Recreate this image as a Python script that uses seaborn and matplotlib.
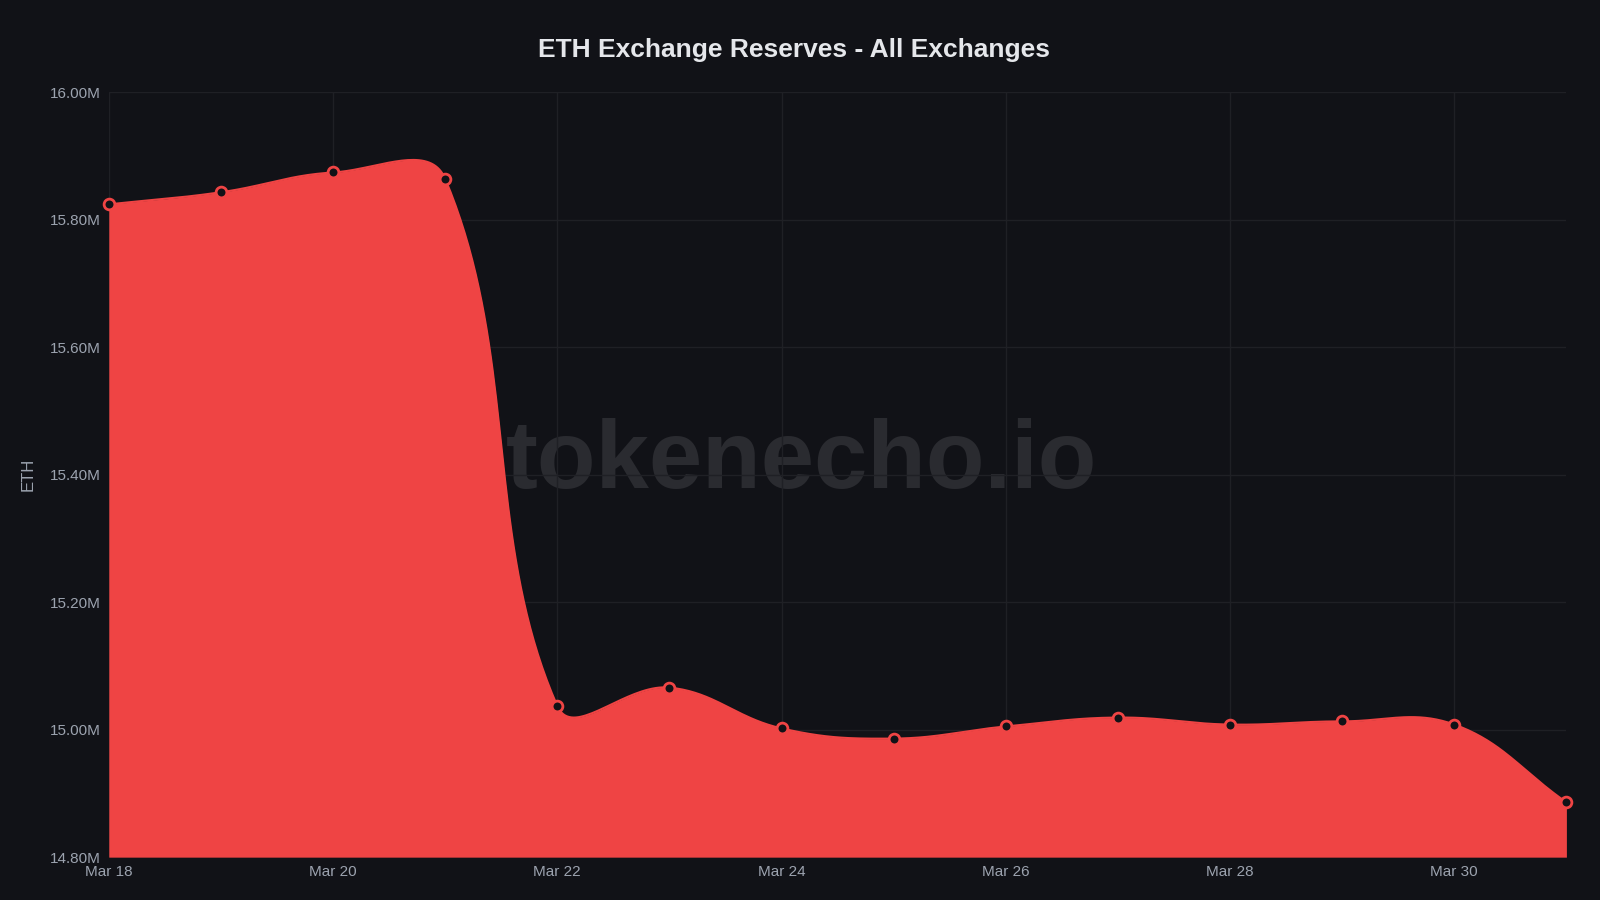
import numpy as np
import pandas as pd
import seaborn as sns
import matplotlib.pyplot as plt
import matplotlib.ticker as mticker

days = list(range(18, 32))
reserves = [15.824, 15.843, 15.874, 15.864, 15.037, 15.066, 15.002,
            14.986, 15.005, 15.019, 15.008, 15.013, 15.008, 14.886]
tick_days = [18, 20, 22, 24, 26, 28, 30]
tick_labels = ["Mar 18", "Mar 20", "Mar 22", "Mar 24", "Mar 26", "Mar 28", "Mar 30"]

df = pd.DataFrame({"day": days, "eth": reserves})

BG = "#111217"
RED = "#ef4444"

sns.set_theme(style="dark")
plt.rcParams["font.family"] = ["Liberation Sans", "DejaVu Sans"]

# chart.js style bezier smoothing (tension 0.4), computed in pixel-like space
def smooth(x, y, sx=110.0, sy=625.0, t=0.4, n=40):
    px, py = np.array(x) * sx, np.array(y) * sy
    m = len(px)
    c1, c2 = [], []
    for i in range(m):
        a = max(i - 1, 0)
        b = min(i + 1, m - 1)
        d01 = np.hypot(px[i] - px[a], py[i] - py[a])
        d12 = np.hypot(px[b] - px[i], py[b] - py[i])
        tot = d01 + d12 if d01 + d12 > 0 else 1
        fa, fb = t * d01 / tot, t * d12 / tot
        dx, dy = px[b] - px[a], py[b] - py[a]
        c1.append((px[i] - fa * dx, py[i] - fa * dy))
        c2.append((px[i] + fb * dx, py[i] + fb * dy))
    xs, ys = [], []
    s = np.linspace(0, 1, n)
    for i in range(m - 1):
        p0 = np.array([px[i], py[i]])
        p3 = np.array([px[i + 1], py[i + 1]])
        p1 = np.array(c2[i])
        p2 = np.array(c1[i + 1])
        pts = ((1 - s) ** 3)[:, None] * p0 + (3 * (1 - s) ** 2 * s)[:, None] * p1 \
            + (3 * (1 - s) * s ** 2)[:, None] * p2 + (s ** 3)[:, None] * p3
        xs.extend(pts[:, 0] / sx)
        ys.extend(pts[:, 1] / sy)
    return np.array(xs), np.array(ys)

fig = plt.figure(figsize=(16, 9), dpi=100, facecolor=BG)
ax = fig.add_axes([0.068, 0.0476, 0.911, 0.850], facecolor=BG)

ax.text(0.475, 0.515, "tokenecho.io", transform=ax.transAxes, ha="center", va="center",
        fontsize=69, fontweight="bold", color="#2a2b30", zorder=0)

sx, sy = smooth(df["day"], df["eth"])
ax.fill_between(sx, 14.8, sy, color=RED, lw=0, zorder=2)
ax.plot(sx, sy, color=RED, lw=1.5, zorder=3)
sns.scatterplot(data=df, x="day", y="eth", ax=ax, s=60, color=BG, edgecolor=RED,
                linewidth=2, zorder=4, clip_on=False)

ax.set_xlim(18, 31)
ax.set_ylim(14.8, 16.0)
ax.set_xticks(tick_days)
ax.set_xticklabels(tick_labels)
ax.yaxis.set_major_locator(mticker.MultipleLocator(0.2))
ax.yaxis.set_major_formatter(mticker.FuncFormatter(lambda v, p: f"{v:.2f}M"))
ax.grid(True, color="#1f2025", lw=1, zorder=1)
ax.set_axisbelow(True)
for s in ax.spines.values():
    s.set_visible(False)
ax.tick_params(colors="#9ca3af", labelsize=11, length=0, pad=6)
ax.set_xlabel("")
ax.set_ylabel("ETH", color="#9ca3af", fontsize=12, labelpad=10)
fig.text(0.496, 0.945, "ETH Exchange Reserves - All Exchanges", ha="center", va="center",
         fontsize=19, fontweight="bold", color="#e5e7eb")

fig.savefig("out.png", facecolor=BG)
